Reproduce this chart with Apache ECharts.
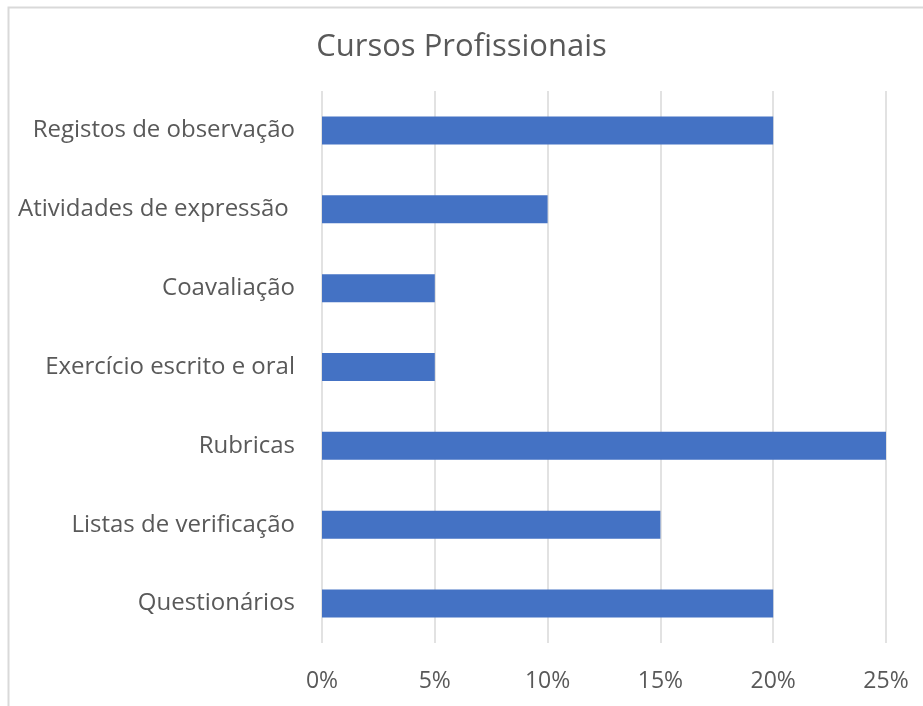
<!DOCTYPE html>
<html>
<head>
<meta charset="utf-8">
<script src="https://cdn.jsdelivr.net/npm/echarts@6/dist/echarts.min.js"></script>
<style>
html,body{margin:0;padding:0;background:#fff;}
#main{width:923px;height:706px;}
</style>
</head>
<body>
<div id="main"></div>
<script>
// categories top to bottom
var categorias = ['Registos de observação', 'Atividades de expressão ', 'Coavaliação', 'Exercício escrito e oral', 'Rubricas', 'Listas de verificação', 'Questionários'];
var valores = [20, 10, 5, 5, 25, 15, 20];
var xTicks = [0, 5, 10, 15, 20, 25];

var fonte = '"Open Sans", "Noto Sans", sans-serif';
var _main = document.getElementById('main');
var myChart = echarts.init(_main, null, {width: 923, height: 706});

var option = {
    animation: false,
    title: {
        text: 'Cursos Profissionais',
        left: 'center',
        top: 27,
        textStyle: {
            color: '#595959',
            fontFamily: fonte,
            fontSize: 31,
            fontWeight: 'normal'
        }
    },
    graphic: [{
        type: 'rect',
        shape: {x: 8.5, y: 7.5, width: 960, height: 760},
        style: {fill: 'none', stroke: '#d9d9d9', lineWidth: 2},
        silent: true
    }],
    grid: {
        left: 322,
        right: 37,
        top: 91,
        bottom: 63,
        containLabel: false
    },
    xAxis: {
        type: 'value',
        min: xTicks[0],
        max: xTicks[xTicks.length - 1],
        interval: 5,
        axisLine: {show: false},
        axisTick: {show: false},
        splitLine: {lineStyle: {color: '#d9d9d9', width: 1.5}},
        axisLabel: {
            margin: 27,
            color: '#595959',
            fontFamily: fonte,
            fontSize: 23,
            formatter: '{value}%'
        }
    },
    yAxis: {
        type: 'category',
        inverse: true,
        data: categorias,
        axisLine: {show: false},
        axisTick: {show: false},
        axisLabel: {
            margin: 27,
            color: '#595959',
            fontFamily: fonte,
            fontSize: 24
        }
    },
    series: [{
        type: 'bar',
        data: valores,
        barWidth: 28,
        itemStyle: {color: '#4472c4'}
    }]
};
myChart.setOption(option);
</script>
</body>
</html>
